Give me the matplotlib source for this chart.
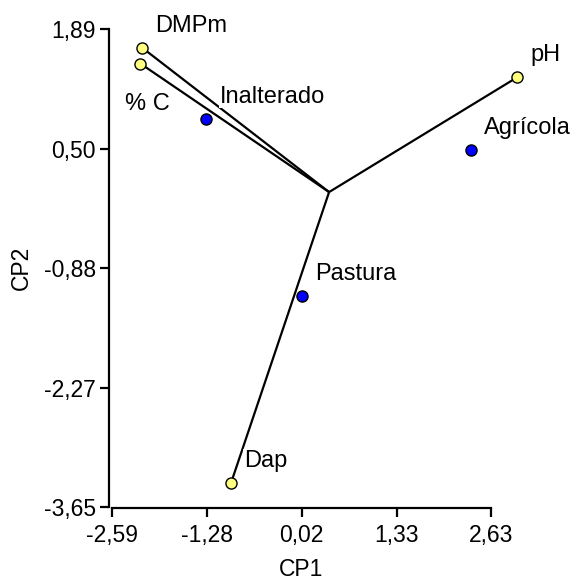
import matplotlib
matplotlib.use("Agg")
import matplotlib.pyplot as plt

plt.rcParams['font.family'] = ['Liberation Sans', 'DejaVu Sans']

# Variable vectors (loadings)
variables = ['DMPm', '% C', 'pH', 'Dap']
var_cp1 = [-2.17, -2.20, 2.99, -0.95]
var_cp2 = [1.67, 1.49, 1.33, -3.37]
vector_origin_cp1 = 0.40
vector_origin_cp2 = 0.0

# Sites (scores)
sites = ['Inalterado', 'Agrícola', 'Pastura']
site_cp1 = [-1.29, 2.35, 0.03]
site_cp2 = [0.85, 0.49, -1.21]

xticks = [-2.59, -1.28, 0.02, 1.33, 2.63]
yticks = [-3.65, -2.27, -0.88, 0.50, 1.89]
xticklabels = ['-2,59', '-1,28', '0,02', '1,33', '2,63']
yticklabels = ['-3,65', '-2,27', '-0,88', '0,50', '1,89']

W, H = 574, 585
fig = plt.figure(figsize=(W / 100, H / 100), dpi=100)
ax = fig.add_axes([112 / W, 1 - 507 / H, (491 - 112) / W, (507 - 29) / H])

FS_TICK = 16.5
FS_LAB = 17
FS_AX = 16.5
px = 0.72  # points per pixel at dpi 100

# vectors
for x, y in zip(var_cp1, var_cp2):
    ax.plot([vector_origin_cp1, x], [vector_origin_cp2, y], color='black',
            lw=1.6, clip_on=False, zorder=2, solid_capstyle='butt')

ax.scatter(var_cp1, var_cp2, s=(8.0) ** 2, facecolor='#FFFF80', edgecolor='black',
           linewidth=1.0, zorder=5, clip_on=False)
ax.scatter(site_cp1, site_cp2, s=(8.0) ** 2, facecolor='#0000FF', edgecolor='black',
           linewidth=1.0, zorder=5, clip_on=False)

label_offsets = {'% C': (-15, 40)}
for name, x, y in list(zip(variables, var_cp1, var_cp2)) + list(zip(sites, site_cp1, site_cp2)):
    dx, dy = label_offsets.get(name, (13, -22))
    ax.annotate(name, (x, y), xytext=(dx * px, -dy * px), textcoords='offset points',
                ha='left', va='center', fontsize=FS_LAB, zorder=4, annotation_clip=False,
                bbox=dict(facecolor='white', edgecolor='none', pad=0.5))

ax.set_xlim(xticks[0], xticks[-1])
ax.set_ylim(yticks[0], yticks[-1])
ax.set_xticks(xticks)
ax.set_xticklabels(xticklabels)
ax.set_yticks(yticks)
ax.set_yticklabels(yticklabels)

for s in ['top', 'right']:
    ax.spines[s].set_visible(False)
ax.spines['left'].set_position(('outward', 2.2))
ax.spines['bottom'].set_position(('outward', 0.8))
ax.spines['left'].set_linewidth(1.6)
ax.spines['bottom'].set_linewidth(1.6)

ax.tick_params(axis='both', length=6.5, width=1.6, labelsize=FS_TICK, direction='out', pad=3)
ax.tick_params(axis='x', pad=5)

ax.set_xlabel('CP1', fontsize=FS_AX, labelpad=8)
ax.set_ylabel('CP2', fontsize=FS_AX, labelpad=8)

fig.savefig('out.png', dpi=100)
